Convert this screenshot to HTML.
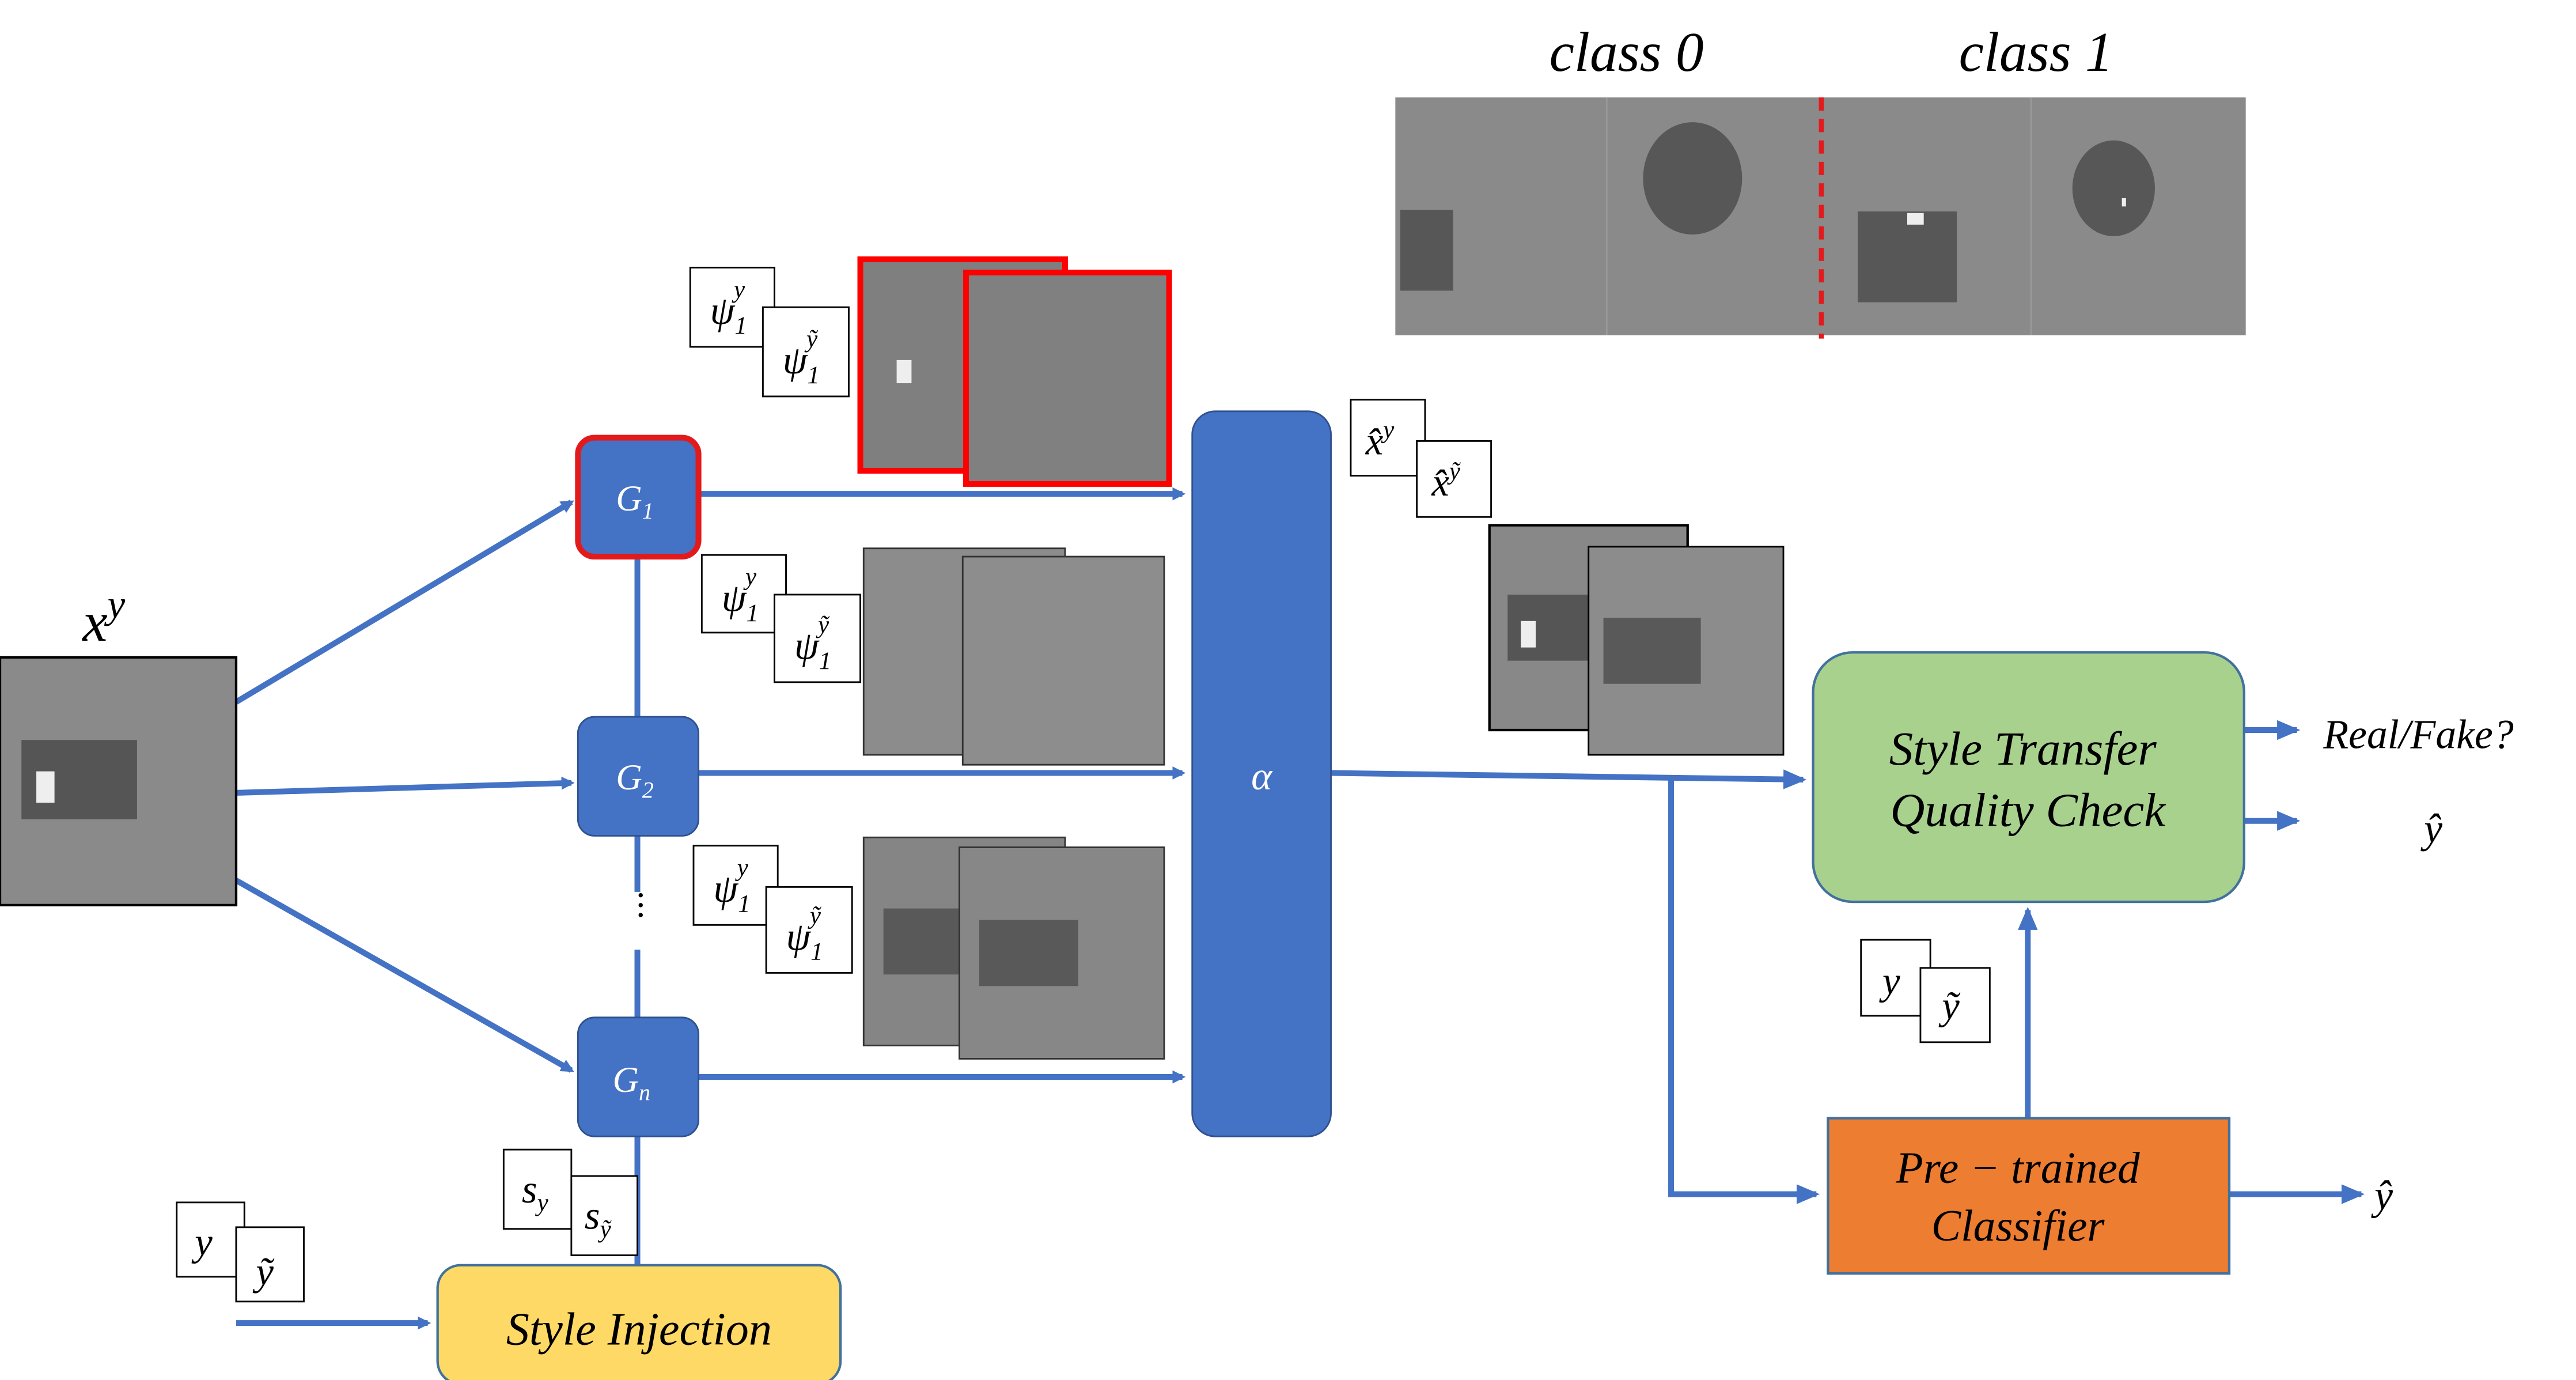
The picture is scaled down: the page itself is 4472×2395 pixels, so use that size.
<!DOCTYPE html>
<html><head><meta charset="utf-8">
<style>
html,body{margin:0;padding:0;background:#fff;}
svg{display:block;}
text{font-family:"Liberation Serif","DejaVu Serif",serif;font-style:italic;}
</style></head>
<body>
<svg width="4472" height="2395" viewBox="0 0 1560 835.5" preserveAspectRatio="none" xmlns="http://www.w3.org/2000/svg">
<defs>
<marker id="a" markerWidth="8" markerHeight="8" refX="6" refY="4" orient="auto" markerUnits="userSpaceOnUse">
<path d="M0,0 L8,4 L0,8 z" fill="#4472c4"/></marker>
<marker id="b" markerWidth="14" markerHeight="12" refX="12" refY="6" orient="auto" markerUnits="userSpaceOnUse">
<path d="M0,0 L14,6 L0,12 z" fill="#4472c4"/></marker>
</defs>
<g stroke="#4472c4" stroke-width="3.5" fill="none">
<line x1="143" y1="425" x2="346" y2="304" marker-end="url(#a)"/>
<line x1="143" y1="480" x2="346" y2="474" marker-end="url(#a)"/>
<line x1="143" y1="533" x2="346" y2="648" marker-end="url(#a)"/>
<line x1="386" y1="337" x2="386" y2="434"/>
<line x1="386" y1="506" x2="386" y2="540"/>
<line x1="386" y1="575" x2="386" y2="616"/>
<line x1="386" y1="688" x2="386" y2="766"/>
<line x1="143" y1="801" x2="259" y2="801" marker-end="url(#a)"/>
<line x1="423" y1="299" x2="716" y2="299" marker-end="url(#a)"/>
<line x1="423" y1="468" x2="716" y2="468" marker-end="url(#a)"/>
<line x1="423" y1="652" x2="716" y2="652" marker-end="url(#a)"/>
<line x1="806" y1="468" x2="1092" y2="472" marker-end="url(#b)"/>
<polyline points="1012,472 1012,723 1100,723" marker-end="url(#b)"/>
<line x1="1359" y1="442" x2="1391" y2="442" marker-end="url(#b)"/>
<line x1="1359" y1="497" x2="1391" y2="497" marker-end="url(#b)"/>
<line x1="1228" y1="677" x2="1228" y2="551" marker-end="url(#b)"/>
<line x1="1350" y1="723" x2="1430" y2="723" marker-end="url(#b)"/>
</g>
<g fill="#000"><circle cx="388" cy="542" r="1.3"/><circle cx="388" cy="548" r="1.3"/><circle cx="388" cy="554" r="1.3"/></g>
<!-- input image -->
<text x="50" y="388" font-size="34">x<tspan font-size="24" dy="-14">y</tspan></text>
<rect x="0" y="398" width="143" height="150" fill="#8a8a8a" stroke="#000" stroke-width="1.5"/>
<rect x="13" y="448" width="70" height="48" fill="#555"/>
<rect x="22" y="467" width="11" height="19" fill="#eee"/>
<!-- generators -->
<rect x="350" y="265" width="73" height="72" rx="10" fill="#4472c4" stroke="#e31a1c" stroke-width="3.5"/>
<rect x="350" y="434" width="73" height="72" rx="10" fill="#4472c4" stroke="#2f528f" stroke-width="1"/>
<rect x="350" y="616" width="73" height="72" rx="10" fill="#4472c4" stroke="#2f528f" stroke-width="1"/>
<g fill="#fff" font-size="22"><text x="373" y="309">G<tspan font-size="14" dy="5">1</tspan></text>
<text x="373" y="478">G<tspan font-size="14" dy="5">2</tspan></text>
<text x="371" y="661">G<tspan font-size="14" dy="5">n</tspan></text></g>
<!-- style injection -->
<rect x="265" y="766" width="244" height="72" rx="14" fill="#ffd966" stroke="#41719c" stroke-width="1.5"/>
<text x="387" y="814" font-size="28" text-anchor="middle">Style Injection</text>
<g fill="#fff" stroke="#000" stroke-width="1">
<rect x="107" y="728" width="41" height="45"/><rect x="143" y="743" width="41" height="45"/>
<rect x="305" y="696" width="41" height="48"/><rect x="346" y="712" width="40" height="48"/>
<rect x="418" y="162" width="51" height="48"/><rect x="462" y="186" width="52" height="54"/>
<rect x="425" y="336" width="51" height="47"/><rect x="469" y="360" width="52" height="53"/>
<rect x="420" y="512" width="51" height="48"/><rect x="464" y="537" width="52" height="52"/>
<rect x="818" y="242" width="45" height="46"/><rect x="858" y="267" width="45" height="46"/>
<rect x="1127" y="569" width="42" height="46"/><rect x="1163" y="586" width="42" height="45"/>
</g>
<g font-size="24">
<text x="118" y="760">y</text><text x="155" y="778">ỹ</text>
<text x="316" y="728">s<tspan font-size="15" dy="5">y</tspan></text>
<text x="354" y="744">s<tspan font-size="15" dy="5">ỹ</tspan></text>
<text x="430" y="196">ψ<tspan font-size="15" dy="6">1</tspan><tspan font-size="15" dx="-8" dy="-22">y</tspan></text>
<text x="474" y="226">ψ<tspan font-size="15" dy="6">1</tspan><tspan font-size="15" dx="-8" dy="-22">ỹ</tspan></text>
<text x="437" y="370">ψ<tspan font-size="15" dy="6">1</tspan><tspan font-size="15" dx="-8" dy="-22">y</tspan></text>
<text x="481" y="399">ψ<tspan font-size="15" dy="6">1</tspan><tspan font-size="15" dx="-8" dy="-22">ỹ</tspan></text>
<text x="432" y="546">ψ<tspan font-size="15" dy="6">1</tspan><tspan font-size="15" dx="-8" dy="-22">y</tspan></text>
<text x="476" y="575">ψ<tspan font-size="15" dy="6">1</tspan><tspan font-size="15" dx="-8" dy="-22">ỹ</tspan></text>
<text x="827" y="275">x̂<tspan font-size="15" dy="-10">y</tspan></text>
<text x="867" y="300">x̂<tspan font-size="15" dy="-10">ỹ</tspan></text>
<text x="1140" y="602">y</text><text x="1176" y="617">ỹ</text>
</g>
<!-- image stacks -->
<rect x="521" y="157" width="124" height="128" fill="#7f7f7f" stroke="#ff0000" stroke-width="3.5"/>
<rect x="543" y="218" width="9" height="14" fill="#eee"/>
<rect x="585" y="165" width="123" height="128" fill="#808080" stroke="#ff0000" stroke-width="3.5"/>
<rect x="523" y="332" width="122" height="125" fill="#8c8c8c" stroke="#333" stroke-width="1"/>
<rect x="583" y="337" width="122" height="126" fill="#8d8d8d" stroke="#333" stroke-width="1"/>
<rect x="523" y="507" width="122" height="126" fill="#858585" stroke="#333" stroke-width="1"/>
<rect x="535" y="550" width="55" height="40" fill="#595959"/>
<rect x="581" y="513" width="124" height="128" fill="#878787" stroke="#333" stroke-width="1"/>
<rect x="593" y="557" width="60" height="40" fill="#595959"/>
<!-- alpha -->
<rect x="722" y="249" width="84" height="439" rx="14" fill="#4472c4" stroke="#2f528f" stroke-width="1"/>
<text x="764" y="478" font-size="24" fill="#fff" text-anchor="middle">α</text>
<!-- output images -->
<rect x="902" y="318" width="120" height="124" fill="#888" stroke="#000" stroke-width="1.5"/>
<rect x="913" y="360" width="52" height="40" fill="#555"/>
<rect x="921" y="376" width="9" height="16" fill="#eee"/>
<rect x="962" y="331" width="118" height="126" fill="#8c8c8c" stroke="#000" stroke-width="1"/>
<rect x="971" y="374" width="59" height="40" fill="#595959"/>
<!-- style transfer QC -->
<rect x="1098" y="395" width="261" height="151" rx="24" fill="#a9d18e" stroke="#41719c" stroke-width="1.5"/>
<g font-size="29" text-anchor="middle"><text x="1225" y="463">Style Transfer</text><text x="1228" y="500">Quality Check</text></g>
<text x="1407" y="453" font-size="25">Real/Fake?</text>
<text x="1468" y="510" font-size="25">ŷ</text>
<!-- pretrained -->
<rect x="1107" y="677" width="243" height="94" fill="#ed7d31" stroke="#41719c" stroke-width="1.5"/>
<g font-size="27" text-anchor="middle"><text x="1222" y="716">Pre − trained</text><text x="1222" y="751">Classifier</text></g>
<text x="1438" y="732" font-size="25">ŷ</text>
<!-- top strip -->
<text x="985" y="43" font-size="34" text-anchor="middle">class 0</text>
<text x="1233" y="43" font-size="34" text-anchor="middle">class 1</text>
<rect x="845" y="59" width="515" height="144" fill="#8a8a8a"/>
<line x1="973" y1="59" x2="973" y2="203" stroke="#9a9a9a" stroke-width="1"/>
<line x1="1230" y1="59" x2="1230" y2="203" stroke="#9a9a9a" stroke-width="1"/>
<ellipse cx="1025" cy="108" rx="30" ry="34" fill="#575757"/>
<rect x="848" y="127" width="32" height="49" fill="#575757"/>
<rect x="1125" y="128" width="60" height="55" fill="#575757"/>
<rect x="1155" y="129" width="10" height="7" fill="#eee"/>
<ellipse cx="1280" cy="114" rx="25" ry="29" fill="#575757"/>
<rect x="1285" y="120" width="2.5" height="5" fill="#eee"/>
<line x1="1103" y1="59" x2="1103" y2="205" stroke="#e31a1c" stroke-width="3" stroke-dasharray="8,5"/>
</svg>
</body></html>
